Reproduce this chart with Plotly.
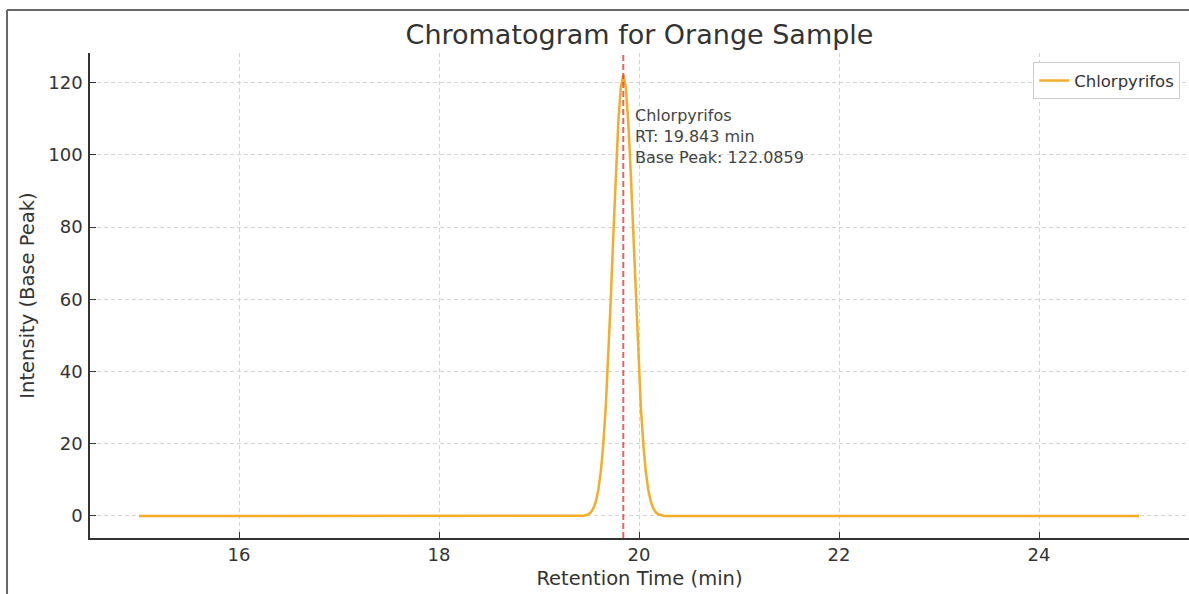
import plotly.graph_objects as go

# Data
retention_time = [15.0, 19.393, 19.443, 19.468, 19.493, 19.518, 19.543, 19.568, 19.593,
                  19.618, 19.643, 19.668, 19.693, 19.718, 19.743, 19.768, 19.793, 19.818,
                  19.843, 19.868, 19.893, 19.918, 19.943, 19.968, 19.993, 20.018, 20.043,
                  20.068, 20.093, 20.118, 20.143, 20.168, 20.193, 20.218, 20.243, 20.293, 25.0]
intensity = [0.0, 0.0, 0.09, 0.21, 0.47, 1.01, 2.06, 3.96, 7.18,
             12.3, 19.9, 30.4, 44.0, 60.1, 77.6, 94.6, 109.0, 118.7,
             122.0859, 118.7, 109.0, 94.6, 77.6, 60.1, 44.0, 30.4, 19.9,
             12.3, 7.18, 3.96, 2.06, 1.01, 0.47, 0.21, 0.09, 0.0, 0.0]
compound = "Chlorpyrifos"
peak_rt = 19.843
peak_intensity = 122.0859
x_ticks = [16, 18, 20, 22, 24]
y_ticks = [0, 20, 40, 60, 80, 100, 120]

FONT = "DejaVu Sans"
TXT = "#333333"
ORANGE = "rgb(245,172,40)"

fig = go.Figure()
fig.add_trace(go.Scatter(
    x=retention_time, y=intensity, mode="lines", name=compound,
    line=dict(color=ORANGE, width=2.5),
))

# vertical dashed line at peak retention time
fig.add_shape(type="line", xref="x", yref="paper", x0=peak_rt, x1=peak_rt, y0=0, y1=1,
              line=dict(color="rgba(225,60,60,0.8)", width=2, dash="6px,3px"), layer="above")

fig.add_annotation(
    x=peak_rt + 0.1, y=peak_intensity * 0.8, xref="x", yref="y",
    text=f"{compound}<br>RT: {peak_rt} min<br>Base Peak: {peak_intensity}",
    showarrow=False, xanchor="left", yanchor="bottom", align="left", yshift=-6,
    font=dict(family=FONT, size=16, color="#444444"),
)

# figure frame lines (left and top edges of the captured figure)
fig.add_shape(type="line", xref="paper", yref="paper", x0=-0.0755, x1=1.0, y0=1.0887, y1=1.0887,
              line=dict(color="#666666", width=2))
fig.add_shape(type="line", xref="paper", yref="paper", x0=-0.0755, x1=-0.0755, y0=-0.2, y1=1.0887,
              line=dict(color="#666666", width=2))

axis_common = dict(
    showgrid=True, gridcolor="#d3d3d3", gridwidth=1, griddash="4px,3px",
    showline=True, linecolor="#333333", linewidth=1.5,
    ticks="inside", ticklen=6, tickwidth=1.2, tickcolor="#333333",
    tickfont=dict(family=FONT, size=18, color=TXT),
    zeroline=False,
)

fig.update_xaxes(
    range=[14.51, 25.5], tickvals=x_ticks, ticktext=[str(v) for v in x_ticks],
    title=dict(text="Retention Time (min)", font=dict(family=FONT, size=19.5, color=TXT), standoff=7),
    **axis_common,
)
fig.update_yaxes(
    range=[-6.1, 128.2], tickvals=y_ticks, ticktext=[str(v) for v in y_ticks],
    ticklabelstandoff=2,
    title=dict(text="Intensity (Base Peak)", font=dict(family=FONT, size=19.5, color=TXT), standoff=8),
    **axis_common,
)

fig.update_layout(
    width=1189, height=594,
    margin=dict(l=90, r=0, t=53, b=56),
    paper_bgcolor="white", plot_bgcolor="white",
    font=dict(family=FONT, color=TXT),
    title=dict(text="Chromatogram for Orange Sample", x=0.5, xref="paper", xanchor="center",
               y=1 - 35 / 594, yref="container", yanchor="middle",
               font=dict(family=FONT, size=27, color=TXT)),
    showlegend=True,
    legend=dict(x=0.992, xanchor="right", y=0.981, yanchor="top",
                bgcolor="white", bordercolor="#cccccc", borderwidth=1,
                font=dict(family=FONT, size=16.5, color=TXT)),
)

fig.write_html("out.html")
